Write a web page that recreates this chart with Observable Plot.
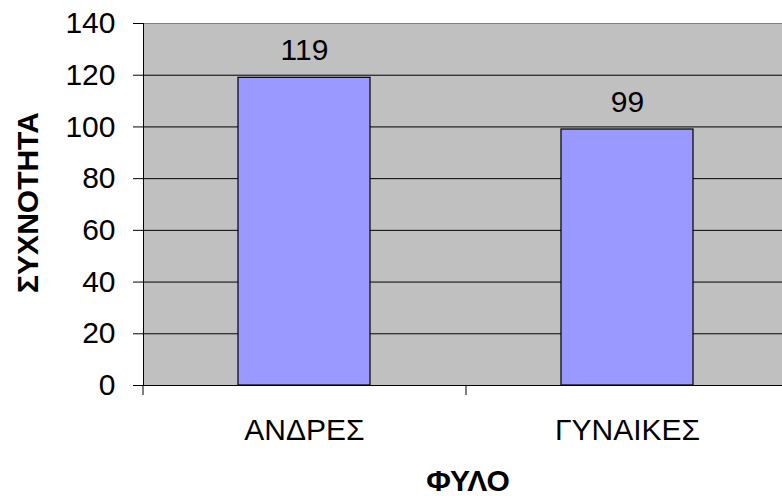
<!DOCTYPE html>
<html>
<head>
<meta charset="utf-8">
<script src="https://cdn.jsdelivr.net/npm/d3@7"></script>
<script src="https://cdn.jsdelivr.net/npm/@observablehq/plot@0.6"></script>
<style>
  html, body { margin: 0; padding: 0; background: #fff; }
  #chart svg { display: block; }
</style>
</head>
<body>
<div id="chart"></div>
<script>
const categories = ["ΑΝΔΡΕΣ", "ΓΥΝΑΙΚΕΣ"];
const values = [119, 99];
const yTicks = [0, 20, 40, 60, 80, 100, 120, 140];
const gridTicks = [20, 40, 60, 80, 100, 120];
const xTitle = "ΦΥΛΟ";
const yTitle = "ΣΥΧΝΟΤΗΤΑ";

const data = categories.map((c, i) => ({cat: c, val: values[i]}));

const W = 782, H = 496;
const xRange = [143, 789];
const step = (xRange[1] - xRange[0]) / categories.length;
const FONT = "Liberation Sans, Arial, sans-serif";
const FS = 30;

const chart = Plot.plot({
  width: W,
  height: H,
  marginTop: 23,
  marginBottom: 111,
  marginLeft: 143,
  marginRight: 0,
  style: {fontFamily: FONT, fontSize: FS + "px", color: "black", background: "white"},
  x: {type: "band", domain: categories, range: xRange, paddingInner: 0.59, paddingOuter: 0.295, align: 0.5, label: null},
  y: {domain: [0, 140], label: null},
  marks: [
    Plot.frame({fill: "#C0C0C0", stroke: null}),
    Plot.ruleY(gridTicks, {stroke: "black", strokeWidth: 1}),
    Plot.ruleY([140], {stroke: "#808080", strokeWidth: 1}),
    Plot.barY(data, {x: "cat", y: "val", fill: "#9999FF", stroke: "black", strokeWidth: 1.2}),
    Plot.text(data, {x: "cat", y: "val", text: d => String(d.val), lineAnchor: "bottom", dy: -18, fontSize: FS, fill: "black"}),
    Plot.frame({anchor: "left", stroke: "black"}),
    Plot.frame({anchor: "bottom", stroke: "black"}),
    Plot.axisY({ticks: yTicks, tickSize: 10, tickPadding: 18, fontSize: FS, stroke: "black", fill: "black", label: null}),
    Plot.axisX({tickSize: 10, tickFormat: () => "", dx: -step / 2, stroke: "black", label: null}),
    Plot.axisX({tickSize: 0, tickPadding: 33, fontSize: FS, fill: "black", label: null}),
    Plot.text([xTitle], {frameAnchor: "bottom", textAnchor: "middle", lineAnchor: "middle", dy: 96, dx: 5, fontSize: FS, fontWeight: "bold", fill: "black"}),
    Plot.text([yTitle], {frameAnchor: "left", textAnchor: "middle", rotate: -90, lineAnchor: "middle", dx: -115, dy: -2, fontSize: FS, fontWeight: "bold", fill: "black"})
  ]
});
document.getElementById("chart").appendChild(chart);
</script>
</body>
</html>
